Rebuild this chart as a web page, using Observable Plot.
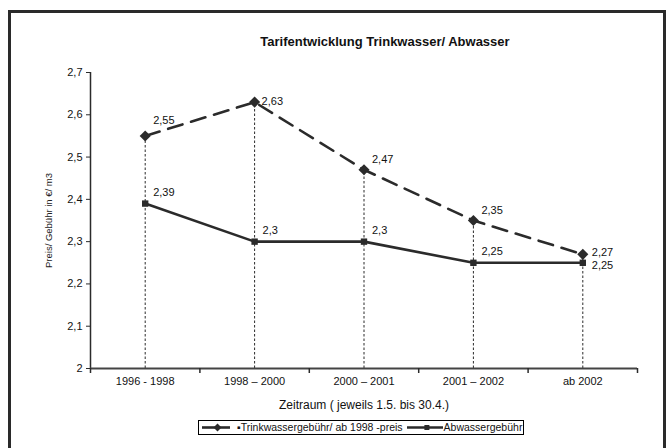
<!DOCTYPE html>
<html>
<head>
<meta charset="utf-8">
<script src="https://cdn.jsdelivr.net/npm/d3@7"></script>
<script src="https://cdn.jsdelivr.net/npm/@observablehq/plot@0.6"></script>
<style>
  html, body { margin: 0; padding: 0; background: #fff; }
  body { width: 668px; height: 448px; overflow: hidden; position: relative; font-family: "Liberation Sans", Arial, sans-serif; }
  #frame { position: absolute; left: 8px; top: 10px; width: 652px; height: 460px; border: 3px solid #2a2a2a; border-bottom: none; }
  #title { position: absolute; left: 0; width: 770px; top: 34px; text-align: center; font-weight: bold; font-size: 13px; color: #111; }
  #chart { position: absolute; left: 0; top: 0; }
  #legend { position: absolute; left: 198px; top: 420px; height: 13px; border: 1px solid #000; font-size: 10.5px; line-height: 13px; color: #111; display: flex; align-items: center; padding: 0 1px 0 2px; white-space: nowrap; }
  #legend svg { display: block; }
</style>
</head>
<body>
<div id="frame"></div>
<div id="chart"></div>
<div id="title">Tarifentwicklung Trinkwasser/ Abwasser</div>
<div id="legend"></div>
<script>
const categories = ["1996 - 1998", "1998 \u2013 2000", "2000 \u2013 2001", "2001 \u2013 2002", "ab 2002"];
const trinkwasser = [2.55, 2.63, 2.47, 2.35, 2.27];
const abwasser = [2.39, 2.3, 2.3, 2.25, 2.25];
const yTicks = [2, 2.1, 2.2, 2.3, 2.4, 2.5, 2.6, 2.7];
const seriesNames = ["Trinkwassergeb\u00fchr/ ab 1998 -preis", "Abwassergeb\u00fchr"];
const xTitle = "Zeitraum ( jeweils 1.5. bis 30.4.)";
const yTitle = "Preis/ Geb\u00fchr in \u20ac/ m3";

const fmt = v => String(v).replace(".", ",");
const trink = trinkwasser.map((v, i) => ({i, x: i + 0.5, y: v}));
const abw = abwasser.map((v, i) => ({i, x: i + 0.5, y: v}));
const last = categories.length - 1;
const col = "#2b2b2b";

const chart = Plot.plot({
  width: 668,
  height: 448,
  marginLeft: 90,
  marginRight: 31,
  marginTop: 72,
  marginBottom: 80,
  style: {fontFamily: "'Liberation Sans', Arial, sans-serif", fontSize: "11px", color: "#111", background: "transparent"},
  x: {type: "linear", domain: [0, categories.length]},
  y: {type: "linear", domain: [2, 2.7]},
  marks: [
    // drop lines
    Plot.ruleX(trink, {x: "x", y1: 2, y2: "y", stroke: col, strokeWidth: 1, strokeDasharray: "2.5,2"}),
    // y axis
    Plot.axisY({ticks: yTicks, tickFormat: fmt, tickSize: 4, tickPadding: 4, label: null, stroke: col}),
    Plot.ruleX([0], {stroke: col, strokeWidth: 1.5}),
    Plot.text([yTitle], {frameAnchor: "left", textAnchor: "middle", dx: -42, rotate: -90, fontSize: 9.5, fill: "#222"}),
    // x axis
    Plot.ruleY([2], {stroke: "#444", strokeWidth: 2}),
    Plot.axisX({ticks: d3.range(categories.length + 1), tickFormat: () => "", tickSize: 5, label: null, stroke: col, strokeWidth: 1.5}),
    Plot.axisX({ticks: d3.range(categories.length).map(i => i + 0.5), tickFormat: v => categories[Math.floor(v)], tickSize: 0, tickPadding: 9, label: null, fontSize: 11}),
    Plot.text([xTitle], {frameAnchor: "bottom", dy: 40, fontSize: 12, fill: "#111"}),
    // series
    Plot.line(trink, {x: "x", y: "y", stroke: col, strokeWidth: 2.6, strokeDasharray: "15,9"}),
    Plot.line(abw, {x: "x", y: "y", stroke: col, strokeWidth: 2.6}),
    Plot.dot(trink, {x: "x", y: "y", symbol: "diamond2", r: 5, fill: col, stroke: col, strokeWidth: 0}),
    Plot.dot(abw, {x: "x", y: "y", symbol: "square", r: 3.6, fill: col, stroke: col, strokeWidth: 0}),
    // labels
    Plot.text(trink.filter(d => d.i === 0), {x: "x", y: "y", text: d => fmt(d.y), textAnchor: "start", dx: 8, dy: -15, fontSize: 11, fill: "#111"}),
    Plot.text(trink.filter(d => d.i === 2 || d.i === 3), {x: "x", y: "y", text: d => fmt(d.y), textAnchor: "start", dx: 8, dy: -10, fontSize: 11, fill: "#111"}),
    Plot.text(trink.filter(d => d.i === 1), {x: "x", y: "y", text: d => fmt(d.y), textAnchor: "start", dx: 7, dy: -1, fontSize: 11, fill: "#111"}),
    Plot.text(trink.filter(d => d.i === last), {x: "x", y: "y", text: d => fmt(d.y), textAnchor: "start", dx: 9, dy: -2, fontSize: 11, fill: "#111"}),
    Plot.text(abw.filter(d => d.i !== last), {x: "x", y: "y", text: d => fmt(d.y), textAnchor: "start", dx: 8, dy: -11, fontSize: 11, fill: "#111"}),
    Plot.text(abw.filter(d => d.i === last), {x: "x", y: "y", text: d => fmt(d.y), textAnchor: "start", dx: 9, dy: 3, fontSize: 11, fill: "#111"})
  ]
});
document.getElementById("chart").appendChild(chart);

// legend
const legend = document.getElementById("legend");
function sample(kind, w) {
  const ns = "http://www.w3.org/2000/svg";
  const s = document.createElementNS(ns, "svg");
  s.setAttribute("width", w); s.setAttribute("height", 11);
  const l = document.createElementNS(ns, "line");
  l.setAttribute("x1", 1); l.setAttribute("x2", w - 1); l.setAttribute("y1", 5.5); l.setAttribute("y2", 5.5);
  l.setAttribute("stroke", col); l.setAttribute("stroke-width", 2.6);
  s.appendChild(l);
  const m = document.createElementNS(ns, "path");
  const c = w * 0.55;
  m.setAttribute("d", kind === "diamond" ? `M${c},1.5L${c + 4},5.5L${c},9.5L${c - 4},5.5Z` : `M${c - 2.5},3L${c + 2.5},3L${c + 2.5},8L${c - 2.5},8Z`);
  m.setAttribute("fill", col);
  s.appendChild(m);
  return s;
}
legend.appendChild(sample("diamond", 30));
const t1 = document.createElement("span"); t1.textContent = "\u25aa" + seriesNames[0]; t1.style.marginLeft = "6px"; t1.style.marginRight = "3px";
legend.appendChild(t1);
legend.appendChild(sample("square", 38));
const t2 = document.createElement("span"); t2.textContent = seriesNames[1];
legend.appendChild(t2);
</script>
</body>
</html>
